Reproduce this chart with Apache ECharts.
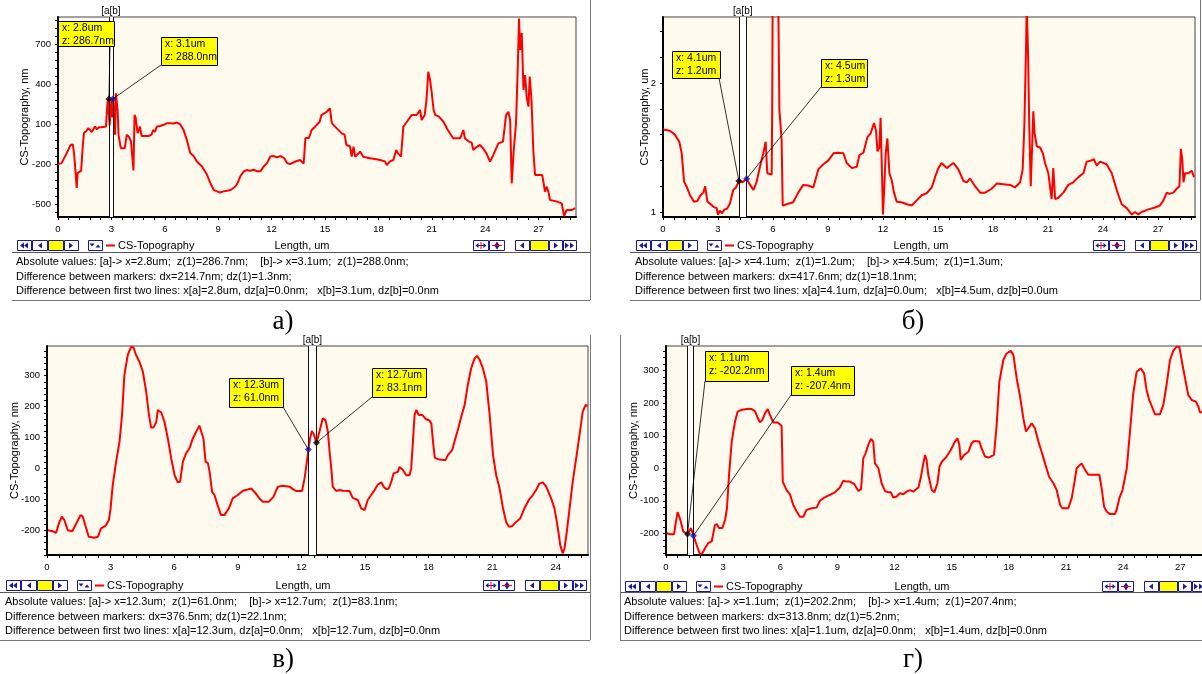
<!DOCTYPE html>
<html>
<head>
<meta charset="utf-8">
<title>CS-Topography</title>
<script src="https://cdn.jsdelivr.net/npm/echarts@6/dist/echarts.min.js"></script>
<style>
body{margin:0;padding:0;background:#fff;}
#chart{width:1202px;height:674px;}
</style>
</head>
<body>
<div id="chart"></div>
<script>
// ---- profile data: [length um, height] ----
var profileA = [[0,-200],[0.2,-193],[0.49,-118],[0.71,-56],[0.83,-53],[0.9,-118],[0.98,-250],[1.05,-380],[1.1,-268],[1.2,-255],[1.3,-250],[1.39,-68],[1.46,36],[1.58,44],[1.7,69],[1.8,60],[1.9,40],[2.08,81],[2.18,60],[2.29,75],[2.42,75],[2.55,78],[2.7,81],[2.75,206],[2.8,287],[2.85,300],[2.9,90],[3.0,290],[3.05,150],[3.1,288],[3.15,180],[3.2,20],[3.25,330],[3.3,343],[3.35,200],[3.4,19],[3.53,-81],[3.64,-90],[3.75,-81],[3.86,19],[3.98,5],[4.1,-31],[4.18,-45],[4.24,-248],[4.3,169],[4.36,150],[4.47,31],[4.55,60],[4.6,81],[4.7,10],[4.85,10],[5.08,10],[5.25,20],[5.36,56],[5.45,40],[5.55,81],[5.75,85],[5.93,94],[6.1,105],[6.3,106],[6.5,104],[6.68,111],[6.85,100],[7.05,56],[7.24,-19],[7.43,-118],[7.62,-140],[7.8,-181],[8.09,-218],[8.37,-281],[8.56,-343],[8.74,-393],[8.93,-405],[9.1,-413],[9.3,-405],[9.5,-400],[9.7,-395],[9.96,-368],[10.1,-340],[10.24,-293],[10.43,-256],[10.6,-245],[10.8,-250],[10.99,-243],[11.2,-255],[11.37,-255],[11.56,-218],[11.74,-193],[11.93,-143],[12.1,-140],[12.3,-150],[12.5,-140],[12.7,-155],[12.87,-193],[13.03,-200],[13.3,-183],[13.6,-170],[13.8,-196],[13.9,-5],[14.1,-5],[14.25,55],[14.44,80],[14.7,117],[14.8,167],[15.1,192],[15.28,218],[15.38,107],[15.66,67],[15.94,30],[16.1,20],[16.2,-57],[16.4,-67],[16.5,-145],[16.6,-70],[16.7,-145],[16.97,-107],[17.15,-145],[17.53,-157],[17.8,-163],[18.1,-170],[18.37,-180],[18.47,-207],[18.65,-180],[18.84,-170],[19.0,-95],[19.1,-120],[19.27,-145],[19.4,80],[19.6,117],[19.87,167],[20.15,167],[20.34,205],[20.43,130],[20.6,167],[20.7,280],[20.8,492],[20.9,430],[21.0,330],[21.1,205],[21.2,167],[21.4,155],[21.65,117],[21.9,55],[22.2,-7],[22.6,-7],[22.77,55],[22.86,-7],[23.05,-30],[23.24,-40],[23.33,-95],[23.5,-75],[23.7,-57],[23.9,-85],[24.07,-120],[24.27,-182],[24.46,-130],[24.74,-45],[25.0,-32],[25.17,167],[25.3,192],[25.4,130],[25.49,-345],[25.6,-100],[25.73,105],[25.83,530],[25.9,890],[25.96,655],[26.05,782],[26.15,355],[26.24,467],[26.33,300],[26.43,230],[26.5,455],[26.6,280],[26.7,-95],[26.8,-282],[26.9,-282],[27.2,-282],[27.36,-407],[27.45,-370],[27.55,-407],[27.64,-470],[28.0,-480],[28.3,-495],[28.43,-590],[28.57,-545],[28.85,-545],[29.05,-530]];

var profileB = [[0.02,1.64],[0.38,1.63],[0.65,1.60],[0.89,1.545],[1.02,1.455],[1.15,1.235],[1.29,1.196],[1.47,1.13],[1.69,1.08],[1.87,1.085],[2.05,1.13],[2.2,1.15],[2.3,1.20],[2.42,1.08],[2.56,1.065],[2.75,1.04],[2.93,1.03],[3.0,0.977],[3.1,1.01],[3.22,0.99],[3.36,1.02],[3.49,1.025],[3.65,1.065],[3.83,1.17],[3.98,1.19],[4.14,1.24],[4.34,1.23],[4.56,1.258],[4.75,1.21],[4.93,1.17],[5.1,1.23],[5.29,1.35],[5.47,1.455],[5.6,1.545],[5.69,1.30],[5.78,1.29],[5.93,1.29],[5.96,1.89],[5.98,2.6],[6.29,2.6],[6.35,1.79],[6.47,1.56],[6.53,1.05],[6.75,1.06],[7.1,1.075],[7.38,1.15],[7.65,1.21],[7.92,1.205],[8.2,1.19],[8.47,1.33],[8.75,1.37],[9.02,1.40],[9.3,1.455],[9.57,1.46],[9.84,1.455],[10.02,1.38],[10.3,1.34],[10.57,1.35],[10.71,1.44],[10.93,1.46],[11.15,1.58],[11.33,1.61],[11.51,1.69],[11.62,1.63],[11.7,1.47],[11.8,1.50],[11.87,1.73],[11.96,1.73],[12.0,0.98],[12.06,1.16],[12.15,1.455],[12.24,1.57],[12.35,1.30],[12.47,1.25],[12.6,1.15],[12.75,1.08],[13.02,1.075],[13.3,1.06],[13.57,1.05],[13.84,1.09],[14.11,1.13],[14.38,1.145],[14.66,1.19],[14.84,1.27],[15.02,1.34],[15.2,1.38],[15.48,1.34],[15.66,1.36],[15.84,1.38],[16.11,1.33],[16.39,1.24],[16.57,1.23],[16.75,1.26],[17.02,1.20],[17.3,1.15],[17.57,1.15],[17.93,1.18],[18.2,1.22],[18.57,1.215],[18.93,1.21],[19.2,1.19],[19.48,1.23],[19.62,1.33],[19.71,1.66],[19.8,2.25],[19.84,2.6],[19.91,2.25],[19.98,1.66],[20.06,1.2],[20.13,1.49],[20.2,1.78],[20.27,1.61],[20.39,1.51],[20.57,1.50],[20.72,1.455],[20.84,1.38],[21.02,1.30],[21.2,1.1],[21.29,1.34],[21.39,1.10],[21.57,1.11],[21.84,1.15],[22.11,1.21],[22.38,1.23],[22.66,1.27],[22.93,1.30],[23.11,1.39],[23.38,1.40],[23.5,1.41],[23.66,1.36],[23.84,1.39],[24.2,1.37],[24.48,1.30],[24.75,1.17],[25.02,1.06],[25.3,1.03],[25.57,0.98],[25.75,1.0],[25.93,0.98],[26.11,1.0],[26.48,1.02],[26.84,1.035],[27.11,1.05],[27.3,1.09],[27.48,1.15],[27.62,1.14],[27.84,1.15],[28.02,1.18],[28.17,1.20],[28.25,1.49],[28.33,1.40],[28.39,1.23],[28.48,1.30],[28.66,1.30],[28.84,1.32],[28.97,1.27]];

var profileC = [[0.04,-200],[0.27,-203],[0.43,-208],[0.56,-178],[0.7,-156],[0.82,-167],[0.98,-200],[1.19,-203],[1.38,-178],[1.58,-151],[1.69,-156],[1.85,-194],[1.97,-221],[2.24,-224],[2.4,-221],[2.55,-194],[2.76,-186],[2.92,-167],[3.0,-129],[3.1,-54],[3.26,22],[3.42,86],[3.54,173],[3.65,302],[3.81,367],[3.97,394],[4.08,391],[4.2,367],[4.36,345],[4.52,313],[4.68,248],[4.8,178],[4.91,132],[5.02,132],[5.15,149],[5.23,189],[5.39,181],[5.54,151],[5.7,97],[5.86,32],[6.02,-22],[6.17,-45],[6.28,-43],[6.41,22],[6.56,49],[6.72,65],[6.88,97],[7.04,119],[7.19,138],[7.27,135],[7.38,97],[7.48,22],[7.59,17],[7.67,-11],[7.79,-76],[7.9,-86],[8.06,-121],[8.21,-151],[8.37,-151],[8.58,-129],[8.76,-97],[9.0,-86],[9.24,-72],[9.47,-68],[9.63,-65],[9.79,-76],[10.02,-97],[10.18,-108],[10.46,-108],[10.68,-92],[10.89,-59],[11.12,-56],[11.44,-59],[11.6,-67],[11.75,-73],[12.03,-73],[12.15,-32],[12.26,22],[12.33,61],[12.41,97],[12.49,121],[12.57,113],[12.71,83],[12.85,119],[13.01,162],[13.14,156],[13.25,119],[13.33,54],[13.41,0],[13.48,-59],[13.64,-73],[13.8,-70],[13.96,-72],[14.27,-73],[14.42,-95],[14.66,-102],[14.82,-129],[14.98,-135],[15.13,-102],[15.29,-86],[15.45,-70],[15.61,-52],[15.77,-45],[15.88,-59],[16.0,-67],[16.12,-65],[16.24,-43],[16.35,-16],[16.55,-11],[16.63,5],[16.79,-5],[16.95,-22],[17.1,-22],[17.18,0],[17.26,86],[17.34,173],[17.42,189],[17.54,173],[17.7,173],[17.86,160],[18.02,156],[18.13,146],[18.21,86],[18.29,35],[18.44,30],[18.68,27],[18.8,27],[18.91,43],[19.11,59],[19.22,86],[19.38,124],[19.54,167],[19.7,205],[19.85,270],[20.01,324],[20.17,356],[20.28,364],[20.4,353],[20.56,324],[20.72,281],[20.88,173],[21.04,43],[21.19,-22],[21.35,-65],[21.51,-129],[21.66,-173],[21.79,-189],[21.95,-186],[22.13,-173],[22.32,-162],[22.52,-129],[22.73,-102],[22.92,-86],[23.07,-70],[23.23,-49],[23.39,-45],[23.55,-59],[23.78,-97],[23.94,-129],[24.1,-194],[24.21,-248],[24.33,-275],[24.41,-259],[24.52,-205],[24.65,-129],[24.8,-43],[24.96,32],[25.12,108],[25.27,183],[25.4,205],[25.51,203]];

var profileD = [[0.03,-200],[0.21,-203],[0.42,-203],[0.52,-164],[0.61,-135],[0.73,-154],[0.91,-195],[1.13,-202],[1.31,-184],[1.38,-186],[1.44,-207],[1.61,-236],[1.78,-264],[1.91,-261],[2.05,-246],[2.22,-230],[2.4,-225],[2.57,-174],[2.68,-172],[2.78,-184],[2.96,-184],[3.1,-159],[3.2,-123],[3.31,-20],[3.45,82],[3.62,143],[3.76,174],[3.94,179],[4.23,182],[4.5,182],[4.67,176],[4.81,156],[4.93,141],[5.06,149],[5.2,169],[5.34,182],[5.46,164],[5.63,141],[5.86,141],[6.07,131],[6.13,-41],[6.33,-67],[6.51,-80],[6.68,-113],[6.86,-133],[7.03,-149],[7.21,-149],[7.38,-128],[7.65,-123],[7.91,-121],[8.08,-100],[8.26,-92],[8.52,-84],[8.87,-74],[9.13,-59],[9.31,-38],[9.48,-41],[9.66,-41],[9.89,-49],[10.1,-70],[10.24,-64],[10.36,31],[10.48,46],[10.62,72],[10.76,90],[10.88,82],[10.97,15],[11.15,0],[11.32,-46],[11.5,-70],[11.67,-74],[11.81,-74],[11.93,-90],[12.11,-87],[12.28,-77],[12.46,-80],[12.63,-72],[12.81,-67],[12.98,-72],[13.25,-59],[13.37,-31],[13.51,15],[13.6,41],[13.68,26],[13.77,-20],[13.95,-67],[14.09,-74],[14.25,-46],[14.36,5],[14.48,20],[14.73,36],[14.95,56],[15.17,82],[15.3,92],[15.4,72],[15.47,26],[15.65,41],[15.88,51],[16.05,77],[16.17,84],[16.45,82],[16.57,61],[16.75,36],[16.93,33],[17.22,41],[17.36,133],[17.5,266],[17.71,333],[17.88,353],[18.1,361],[18.24,348],[18.41,277],[18.59,220],[18.76,154],[18.9,113],[19.02,123],[19.2,138],[19.37,123],[19.55,82],[19.72,51],[19.9,15],[20.11,-26],[20.34,-46],[20.51,-67],[20.69,-113],[20.81,-123],[21.12,-123],[21.3,-92],[21.42,-51],[21.56,0],[21.82,15],[22.0,-5],[22.17,-20],[22.75,-20],[22.87,-61],[23.0,-118],[23.13,-133],[23.31,-141],[23.57,-141],[23.66,-128],[23.8,-92],[23.97,-67],[24.19,0],[24.36,113],[24.53,230],[24.71,297],[24.92,307],[25.1,292],[25.23,241],[25.37,210],[25.55,184],[25.67,166],[25.93,166],[26.11,195],[26.28,256],[26.46,333],[26.63,361],[26.81,374],[26.95,374],[27.07,333],[27.25,277],[27.42,225],[27.6,210],[27.82,205],[27.95,190],[28.03,172],[28.14,172]];

// markers [a], [b]: [x, z]
var markersA = [[2.86, 286.7], [3.08, 288.0]];
var markersB = [[4.14, 1.240], [4.56, 1.258]];
var markersC = [[12.33, 61.0], [12.71, 83.1]];
var markersD = [[1.13, -202.2], [1.44, -207.4]];

// tick labels
var xTicksA = [0, 3, 6, 9, 12, 15, 18, 21, 24, 27];
var xTicksC = [0, 3, 6, 9, 12, 15, 18, 21, 24];
var yTicksA = [-500, -200, 100, 400, 700];
var yTicksB = [1, 2];
var yTicksC = [-200, -100, 0, 100, 200, 300];

// marker boxes text
var boxTextA = [['x: 2.8um', 'z: 286.7nm'], ['x: 3.1um', 'z: 288.0nm']];
var boxTextB = [['x: 4.1um', 'z: 1.2um'], ['x: 4.5um', 'z: 1.3um']];
var boxTextC = [['x: 12.3um', 'z: 61.0nm'], ['x: 12.7um', 'z: 83.1nm']];
var boxTextD = [['x: 1.1um', 'z: -202.2nm'], ['x: 1.4um', 'z: -207.4nm']];

var infoA = ['Absolute values: [a]-> x=2.8um;  z(1)=286.7nm;    [b]-> x=3.1um;  z(1)=288.0nm;',
  'Difference between markers: dx=214.7nm; dz(1)=1.3nm;',
  'Difference between first two lines: x[a]=2.8um, dz[a]=0.0nm;   x[b]=3.1um, dz[b]=0.0nm'];
var infoB = ['Absolute values: [a]-> x=4.1um;  z(1)=1.2um;    [b]-> x=4.5um;  z(1)=1.3um;',
  'Difference between markers: dx=417.6nm; dz(1)=18.1nm;',
  'Difference between first two lines: x[a]=4.1um, dz[a]=0.0um;   x[b]=4.5um, dz[b]=0.0um'];
var infoC = ['Absolute values: [a]-> x=12.3um;  z(1)=61.0nm;    [b]-> x=12.7um;  z(1)=83.1nm;',
  'Difference between markers: dx=376.5nm; dz(1)=22.1nm;',
  'Difference between first two lines: x[a]=12.3um, dz[a]=0.0nm;   x[b]=12.7um, dz[b]=0.0nm'];
var infoD = ['Absolute values: [a]-> x=1.1um;  z(1)=202.2nm;    [b]-> x=1.4um;  z(1)=207.4nm;',
  'Difference between markers: dx=313.8nm; dz(1)=5.2nm;',
  'Difference between first two lines: x[a]=1.1um, dz[a]=0.0nm;   x[b]=1.4um, dz[b]=0.0nm'];

var FONT = '"Liberation Sans", Arial, sans-serif';
var NAVY = '#1a1a9a';

// panel layout
var panels = [
  {grid: [58, 17, 518, 200], xMax: 29.1, yMin: -597, yMax: 902, xTicks: xTicksA, yTicks: yTicksA, yStep: 60,
   yName: 'CS-Topography, nm', nameGap: 28, data: profileA, mk: markersA, cols: ['#000', '#1515d0'],
   boxes: [[58, 21, 56, 25, 110, 46], [161, 37, 56, 28, 161, 65]], boxText: boxTextA,
   bar: [17, 240], barR: 473, lenX: 302, info: [16, 262], infoText: infoA,
   frame: [12, 590, 252, 300], vline: [590, 0, 300], cap: [283, 322, 'а)']},
  {grid: [663, 17, 532, 200], xMax: 29.02, yMin: 0.961, yMax: 2.512, xTicks: xTicksA, yTicks: yTicksB, yStep: 0.2,
   yName: 'CS-Topography, um', nameGap: 13, data: profileB, mk: markersB, cols: ['#000', '#1515d0'],
   boxes: [[672, 51, 48, 27, 719, 78], [821, 59, 46, 28, 821, 87]], boxText: boxTextB,
   bar: [636, 240], barR: 1093, lenX: 921, info: [635, 262], infoText: infoB,
   frame: [630, 1200, 252, 300], vline: [1200, 0, 300], cap: [913, 322, 'б)']},
  {grid: [47, 346, 541, 209], xMax: 25.52, yMin: -280, yMax: 396, xTicks: xTicksC, yTicks: yTicksC, yStep: 20,
   yName: 'CS-Topography, nm', nameGap: 27, data: profileC, mk: markersC, cols: ['#1515d0', '#000'],
   boxes: [[229, 378, 54, 29, 283, 407], [372, 368, 54, 29, 372, 397]], boxText: boxTextC,
   bar: [6, 580], barR: 483, lenX: 303, info: [5, 602], infoText: infoC,
   frame: [0, 590, 592, 640], vline: [590, 335, 640], cap: [283, 660, 'в)']},
  {grid: [666, 346, 540, 209], xMax: 28.35, yMin: -266.7, yMax: 376, xTicks: xTicksA, yTicks: yTicksC, yStep: 20,
   yName: 'CS-Topography, nm', nameGap: 27, data: profileD, mk: markersD, cols: ['#000', '#1515d0'],
   boxes: [[705, 351, 63, 30, 705, 381], [791, 366, 63, 29, 791, 395]], boxText: boxTextD,
   bar: [625, 581], barR: 1102, lenX: 922, info: [624, 602], infoText: infoD,
   frame: [620, 1202, 592, 640], vline: [620, 335, 640], cap: [913, 660, 'г)']}
];

function steps(from, to, step) {
  var out = [];
  for (var v = from; v <= to + 1e-9; v += step) out.push(Math.round(v * 1000) / 1000);
  return out;
}
function aligned(min, max, anchor, step) {
  var start = anchor - Math.floor((anchor - min) / step + 1e-9) * step;
  return steps(start, max, step);
}

var option = {animation: false, grid: [], xAxis: [], yAxis: [], series: []};
panels.forEach(function (p, i) {
  option.grid.push({left: p.grid[0], top: p.grid[1], width: p.grid[2], height: p.grid[3],
    show: true, backgroundColor: '#fffaee', borderColor: '#444', borderWidth: 1,
    containLabel: false, outerBoundsMode: 'none'});
  option.xAxis.push({type: 'value', gridIndex: i, min: 0, max: p.xMax,
    axisLine: {show: true, onZero: false, lineStyle: {color: '#000', width: 2}},
    axisTick: {show: true, length: 3, lineStyle: {color: '#000'}, customValues: steps(0, p.xMax, 0.6)},
    axisLabel: {customValues: p.xTicks, color: '#000', fontSize: 9.5, fontFamily: FONT, margin: 7},
    splitLine: {show: false}});
  option.yAxis.push({type: 'value', gridIndex: i, min: p.yMin, max: p.yMax,
    name: p.yName, nameLocation: 'middle', nameGap: p.nameGap, nameMoveOverlap: false,
    nameTextStyle: {color: '#000', fontSize: 11, fontFamily: FONT},
    axisLine: {show: true, onZero: false, lineStyle: {color: '#000', width: 2}},
    axisTick: {show: true, length: 3, lineStyle: {color: '#000'}, customValues: aligned(p.yMin, p.yMax, p.yTicks[0], p.yStep)},
    axisLabel: {customValues: p.yTicks, color: '#000', fontSize: 9.5, fontFamily: FONT, margin: 7},
    splitLine: {show: false}});
  option.series.push({type: 'line', xAxisIndex: i, yAxisIndex: i, data: p.data, showSymbol: false,
    lineStyle: {color: '#ff0000', width: 2}, clip: true, z: 3,
    markArea: {silent: true, itemStyle: {color: '#ffffff'}, data: [[{xAxis: p.mk[0][0]}, {xAxis: p.mk[1][0]}]]},
    markLine: {silent: true, symbol: 'none', label: {show: false}, lineStyle: {color: '#111', type: 'solid', width: 1},
      data: [{xAxis: p.mk[0][0]}, {xAxis: p.mk[1][0]}]}});
  option.series.push({type: 'scatter', xAxisIndex: i, yAxisIndex: i, data: [p.mk[0]], symbol: 'diamond', symbolSize: 7,
    itemStyle: {color: p.cols[0]}, z: 6});
  option.series.push({type: 'scatter', xAxisIndex: i, yAxisIndex: i, data: [p.mk[1]], symbol: 'diamond', symbolSize: 7,
    itemStyle: {color: p.cols[1]}, z: 6});
});

var chart = echarts.init(document.getElementById('chart'), null, {renderer: 'canvas'});
chart.setOption(option);

// ---- decorations ----
function rect(x, y, w, h, fill, stroke) {
  return {type: 'rect', shape: {x: x + 0.5, y: y + 0.5, width: w, height: h}, style: {fill: fill, stroke: stroke, lineWidth: 1}, z: 100};
}
function tri(cx, cy, dir, color, s) {
  s = s || 3;
  var pts;
  if (dir === 'r') pts = [[cx - s + 1, cy - s], [cx + s - 1, cy], [cx - s + 1, cy + s]];
  else if (dir === 'l') pts = [[cx + s - 1, cy - s], [cx - s + 1, cy], [cx + s - 1, cy + s]];
  else if (dir === 'u') pts = [[cx - s, cy + s - 1], [cx, cy - s + 1], [cx + s, cy + s - 1]];
  else pts = [[cx - s, cy - s + 1], [cx, cy + s - 1], [cx + s, cy - s + 1]];
  return {type: 'polygon', shape: {points: pts}, style: {fill: color}, z: 101};
}
function seg(x1, y1, x2, y2, color, w) {
  return {type: 'line', shape: {x1: x1, y1: y1, x2: x2, y2: y2}, style: {stroke: color, lineWidth: w || 1}, z: 100};
}
function txt(x, y, s, font, align, color) {
  return {type: 'text', x: x, y: y, style: {text: s, font: font, fill: color || '#000', textAlign: align || 'left', textVerticalAlign: 'middle'}, z: 102};
}

function leftBar(x, y) {
  var e = [];
  e.push(rect(x, y, 14, 10, '#fff', NAVY), tri(x + 5, y + 5.5, 'l', NAVY), tri(x + 9, y + 5.5, 'l', NAVY));
  e.push(rect(x + 15, y, 15, 10, '#fff', NAVY), tri(x + 23, y + 5.5, 'l', NAVY));
  e.push(rect(x + 31, y, 15, 10, '#ffff00', NAVY));
  e.push(rect(x + 47, y, 14, 10, '#fff', NAVY), tri(x + 54, y + 5.5, 'r', NAVY));
  e.push(rect(x + 71, y, 14, 10, '#fff', NAVY), tri(x + 75, y + 5, 'd', NAVY, 2.5), tri(x + 81, y + 6, 'u', NAVY, 2.5));
  e.push(seg(x + 89, y + 5.5, x + 98, y + 5.5, '#ff0000', 2));
  e.push(txt(x + 101, y + 5.5, 'CS-Topography', '11px ' + FONT));
  return e;
}
function rightBar(x, y) {
  var e = [];
  e.push(rect(x, y, 15, 10, '#fff', NAVY), seg(x + 3, y + 5.5, x + 13, y + 5.5, NAVY, 1),
    tri(x + 4, y + 5.5, 'l', NAVY, 2.5), tri(x + 12, y + 5.5, 'r', NAVY, 2.5), seg(x + 8, y + 2, x + 8, y + 9, '#ff0000', 1));
  e.push(rect(x + 16, y, 15, 10, '#fff', NAVY), seg(x + 24, y + 2, x + 24, y + 9, NAVY, 1),
    tri(x + 24, y + 3.5, 'u', NAVY, 2.5), tri(x + 24, y + 7.5, 'd', NAVY, 2.5), seg(x + 19, y + 5.5, x + 29, y + 5.5, '#ff0000', 1));
  var g = x + 42;
  e.push(rect(g, y, 14, 10, '#fff', NAVY), tri(g + 7, y + 5.5, 'l', NAVY));
  e.push(rect(g + 15, y, 18, 10, '#ffff00', NAVY));
  e.push(rect(g + 34, y, 13, 10, '#fff', NAVY), tri(g + 41, y + 5.5, 'r', NAVY));
  e.push(rect(g + 48, y, 13, 10, '#fff', NAVY), tri(g + 52, y + 5.5, 'r', NAVY), tri(g + 57, y + 5.5, 'r', NAVY));
  return e;
}

var els = [];
panels.forEach(function (p, i) {
  var pa = chart.convertToPixel({gridIndex: i}, p.mk[0]);
  var pb = chart.convertToPixel({gridIndex: i}, p.mk[1]);
  // label above the marker lines
  els.push(txt((pa[0] + pb[0]) / 2, p.grid[1] - 6, '[a[b]', '10px ' + FONT, 'center'));
  // leader lines + boxes
  [pa, pb].forEach(function (pt, k) {
    var b = p.boxes[k];
    els.push(seg(b[4], b[5], pt[0], pt[1], '#000', 0.8));
    els.push(rect(b[0], b[1], b[2], b[3], '#ffff00', '#000'));
    els.push(txt(b[0] + 4, b[1] + 7.5, p.boxText[k][0], '10.5px ' + FONT));
    els.push(txt(b[0] + 4, b[1] + 20, p.boxText[k][1], '10.5px ' + FONT));
  });
  els = els.concat(leftBar(p.bar[0], p.bar[1]), rightBar(p.barR, p.bar[1]));
  els.push(txt(p.lenX, p.bar[1] + 5.5, 'Length, um', '11px ' + FONT, 'center'));
  p.infoText.forEach(function (s, k) {
    els.push(txt(p.info[0], p.info[1] + k * 14.5, s, '11px ' + FONT));
  });
  var f = p.frame;
  els.push(seg(f[0], f[2] + 0.5, f[1], f[2] + 0.5, '#555', 1));
  els.push(seg(f[0], f[3] + 0.5, f[1], f[3] + 0.5, '#777', 1));
  els.push(seg(p.vline[0] + 0.5, p.vline[1], p.vline[0] + 0.5, p.vline[2], '#777', 1));
  els.push(txt(p.cap[0], p.cap[1], p.cap[2], '27px "Liberation Serif", serif', 'center'));
});
chart.setOption({graphic: {elements: els}});
</script>
</body>
</html>
